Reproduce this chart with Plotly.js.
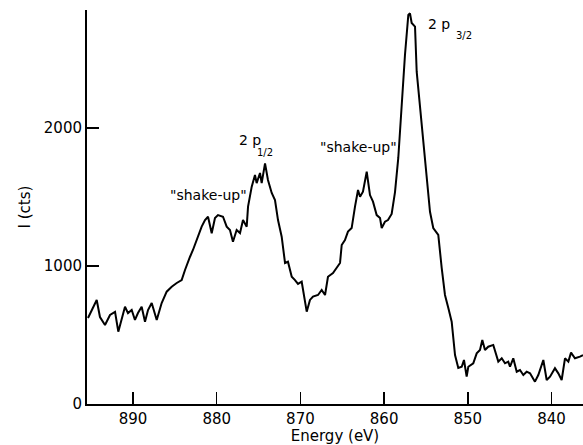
<!DOCTYPE html>
<html>
<head>
<meta charset="utf-8">
<script src="https://cdn.plot.ly/plotly-3.0.1.min.js"></script>
<style>html,body{margin:0;padding:0;background:#fff;}#chart{width:583px;height:445px;}</style>
</head>
<body>
<div id="chart"></div>
<script>
// Binding energy (eV)
var energy = [895.38,894.34,893.95,893.35,892.75,892.15,891.76,891.35,890.96,890.60,
  890.16,889.77,889.41,888.97,888.57,888.21,887.77,887.17,886.58,885.98,
  885.38,884.78,884.19,883.79,883.59,883.19,882.84,882.39,881.80,881.40,
  881.04,880.60,880.21,879.85,879.25,878.81,878.42,878.06,877.62,877.22,
  876.86,876.42,876.26,875.82,875.43,875.23,874.83,874.63,874.23,873.88,
  873.43,873.04,872.68,872.24,871.84,871.49,871.04,870.65,870.29,869.85,
  869.69,869.25,868.86,868.50,867.90,867.46,867.06,866.71,866.11,865.67,
  865.27,865.07,864.68,864.32,863.88,863.48,863.12,862.88,862.53,862.08,
  861.69,861.33,860.89,860.49,860.29,859.90,859.54,859.10,858.70,858.31,
  857.90,857.51,857.11,856.91,856.71,856.31,856.11,855.72,855.32,854.92,
  854.52,854.13,853.53,853.12,852.73,852.33,851.93,851.53,851.14,850.73,
  850.46,850.14,849.94,849.35,848.94,848.55,848.27,847.95,847.56,846.96,
  846.36,845.95,845.56,845.17,844.96,844.57,844.16,843.77,843.37,842.97,
  842.57,841.98,841.58,840.98,840.58,840.18,839.59,839.19,838.79,838.39,
  837.99,837.67,837.20,836.60,836.24];
// Intensity (counts)
var counts = [623,754,630,572,645,667,524,623,705,659,
  681,609,659,705,596,681,732,609,732,814,
  850,877,898,971,1007,1067,1116,1188,1285,1333,
  1357,1237,1348,1369,1357,1285,1261,1176,1261,1239,
  1333,1285,1430,1575,1659,1601,1674,1601,1744,1623,
  1529,1478,1333,1212,1022,1031,922,898,870,886,
  826,669,754,778,790,826,790,922,949,985,
  1022,1152,1188,1249,1275,1430,1551,1502,1538,1683,
  1514,1466,1369,1348,1275,1321,1333,1377,1536,1783,
  2167,2529,2819,2831,2761,2734,2408,2167,1927,1638,
  1393,1275,1225,985,790,696,596,355,261,270,
  319,198,270,295,367,391,464,391,415,428,
  307,331,295,307,270,331,234,246,210,234,
  222,162,210,319,174,198,259,222,174,331,
  307,372,331,343,355];
var xTicks = [890,880,870,860,850,840];
var yTicks = [0,1000,2000];

var font = "DejaVu Sans, Arial, sans-serif";
var trace = {
  x: energy, y: counts, type: "scatter", mode: "lines",
  line: {color: "#000", width: 2}, hoverinfo: "skip"
};
var annFont = {family: font, size: 14, color: "#000"};
var subFont = {family: font, size: 10, color: "#000"};
var layout = {
  width: 583, height: 445,
  margin: {l: 87, r: 0, t: 10, b: 41},
  paper_bgcolor: "#fff", plot_bgcolor: "#fff",
  showlegend: false,
  font: {family: font, size: 14, color: "#000"},
  xaxis: {
    range: [895.5, 836.24], tickvals: xTicks, ticktext: xTicks.map(String),
    ticks: "inside", ticklen: 12, tickwidth: 1.5, tickcolor: "#000",
    showline: true, linecolor: "#000", linewidth: 2, showgrid: false, zeroline: false,
    tickfont: {family: font, size: 15},
    title: {text: "Energy (eV)", font: {family: font, size: 15}, standoff: 6}
  },
  yaxis: {
    range: [0, 2855], tickvals: yTicks, ticktext: yTicks.map(String),
    ticks: "inside", ticklen: 12, tickwidth: 1.5, tickcolor: "#000",
    showline: true, linecolor: "#000", linewidth: 2, showgrid: false, zeroline: false,
    tickfont: {family: font, size: 15},
    title: {text: "I (cts)", font: {family: font, size: 15}, standoff: 10}
  },
  annotations: [
    {x: 881.04, y: 1514, text: "\"shake-up\"", showarrow: false, font: annFont},
    {x: 876.03, y: 1913, text: "2 p", showarrow: false, font: annFont},
    {x: 874.23, y: 1819, text: "1/2", showarrow: false, font: subFont},
    {x: 863.12, y: 1862, text: "\"shake-up\"", showarrow: false, font: annFont},
    {x: 853.39, y: 2753, text: "2 p", showarrow: false, font: annFont},
    {x: 850.46, y: 2667, text: "3/2", showarrow: false, font: subFont}
  ]
};
Plotly.newPlot("chart", [trace], layout, {staticPlot: true, displayModeBar: false});
</script>
</body>
</html>
